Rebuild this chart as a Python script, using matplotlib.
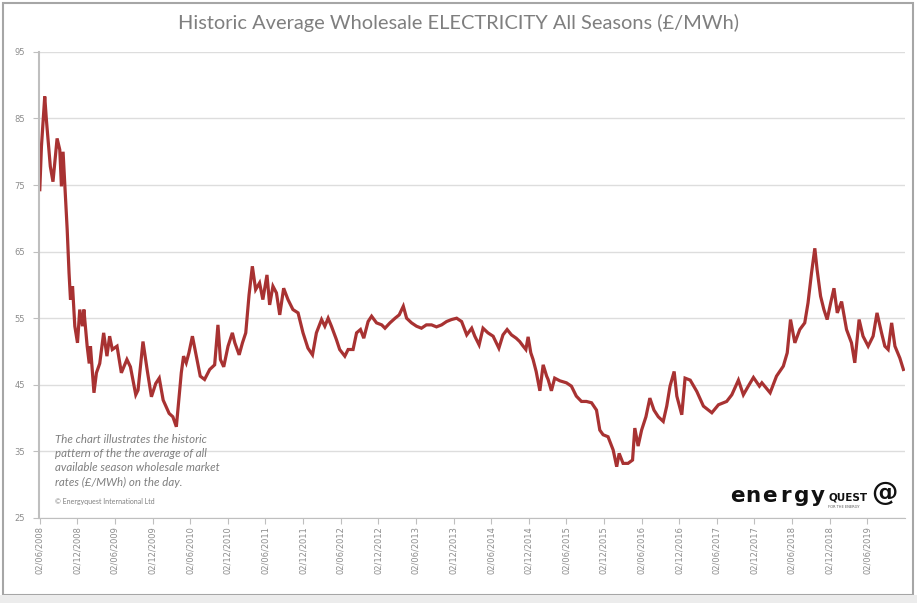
import matplotlib
matplotlib.use('Agg')
import matplotlib.pyplot as plt
import matplotlib.dates as mdates
import pandas as pd
from matplotlib.patches import Rectangle

# dates and average wholesale price (GBP/MWh)
dates = [
    '2008-06-02', '2008-06-10', '2008-06-26', '2008-07-04', '2008-07-23', '2008-08-05',
    '2008-08-25', '2008-09-07', '2008-09-15', '2008-09-23', '2008-10-13', '2008-10-22',
    '2008-10-29', '2008-11-08', '2008-11-19', '2008-12-02', '2008-12-13', '2008-12-26',
    '2009-01-02', '2009-01-18', '2009-01-28', '2009-02-03', '2009-02-20', '2009-03-04',
    '2009-03-20', '2009-04-08', '2009-04-24', '2009-05-07', '2009-05-20', '2009-06-12',
    '2009-07-03', '2009-07-30', '2009-08-16', '2009-09-11', '2009-09-22', '2009-10-16',
    '2009-11-05', '2009-11-26', '2009-12-17', '2010-01-03', '2010-01-22', '2010-02-20',
    '2010-03-10', '2010-03-27', '2010-04-20', '2010-05-01', '2010-05-14', '2010-05-27',
    '2010-06-13', '2010-07-02', '2010-07-21', '2010-08-11', '2010-09-05', '2010-09-29',
    '2010-10-15', '2010-10-27', '2010-11-12', '2010-12-03', '2010-12-24', '2011-01-05',
    '2011-01-26', '2011-02-11', '2011-02-27', '2011-03-15', '2011-03-31', '2011-04-16',
    '2011-05-05', '2011-05-21', '2011-06-10', '2011-06-23', '2011-07-09', '2011-07-26',
    '2011-08-11', '2011-08-30', '2011-09-20', '2011-10-14', '2011-11-08', '2011-12-02',
    '2011-12-26', '2012-01-17', '2012-02-05', '2012-03-01', '2012-03-17', '2012-04-02',
    '2012-04-18', '2012-05-12', '2012-05-28', '2012-06-22', '2012-07-08', '2012-08-01',
    '2012-08-18', '2012-09-06', '2012-09-22', '2012-10-13', '2012-10-30', '2012-11-23',
    '2012-12-18', '2013-01-03', '2013-01-27', '2013-02-21', '2013-03-13', '2013-04-02',
    '2013-04-18', '2013-05-12', '2013-06-05', '2013-06-29', '2013-07-23', '2013-08-17',
    '2013-09-10', '2013-10-05', '2013-10-29', '2013-11-22', '2013-12-17', '2014-01-10',
    '2014-02-04', '2014-02-28', '2014-03-15', '2014-04-05', '2014-04-24', '2014-05-18',
    '2014-06-12', '2014-07-10', '2014-07-30', '2014-08-19', '2014-09-09', '2014-10-02',
    '2014-10-19', '2014-11-05', '2014-11-18', '2014-11-29', '2014-12-12', '2014-12-23',
    '2015-01-07', '2015-01-25', '2015-02-10', '2015-02-27', '2015-03-06', '2015-03-22',
    '2015-04-07', '2015-05-02', '2015-06-03', '2015-06-27', '2015-07-21', '2015-08-15',
    '2015-09-08', '2015-10-03', '2015-10-27', '2015-11-12', '2015-11-28', '2015-12-22',
    '2016-01-16', '2016-02-02', '2016-02-14', '2016-03-04', '2016-03-28', '2016-04-19',
    '2016-04-30', '2016-05-16', '2016-06-02', '2016-06-23', '2016-07-12', '2016-08-01',
    '2016-08-22', '2016-09-15', '2016-10-02', '2016-10-18', '2016-11-07', '2016-11-20',
    '2016-12-14', '2016-12-30', '2017-01-24', '2017-02-25', '2017-03-29', '2017-05-09',
    '2017-06-10', '2017-07-20', '2017-08-14', '2017-09-15', '2017-10-09', '2017-11-02',
    '2017-11-27', '2017-12-26', '2018-01-07', '2018-02-16', '2018-03-19', '2018-04-21',
    '2018-05-10', '2018-05-26', '2018-06-16', '2018-07-10', '2018-08-03', '2018-08-19',
    '2018-09-05', '2018-09-21', '2018-10-02', '2018-10-19', '2018-11-04', '2018-11-20',
    '2018-12-07', '2018-12-23', '2019-01-08', '2019-01-29', '2019-02-22', '2019-03-18',
    '2019-04-03', '2019-04-24', '2019-05-13', '2019-06-07', '2019-07-01', '2019-07-20',
    '2019-08-11', '2019-08-27', '2019-09-12', '2019-09-29', '2019-10-15', '2019-11-08',
    '2019-11-25',
]
prices = [
    74.3, 80.8, 88.3, 84.8, 77.8, 75.5,
    82.0, 80.3, 74.8, 80.0, 68.3, 61.8,
    57.8, 59.8, 53.8, 51.3, 56.3, 53.8,
    56.3, 50.8, 48.2, 50.8, 43.8, 46.8,
    48.2, 52.8, 49.3, 52.3, 50.3, 50.8,
    46.8, 48.8, 47.7, 43.5, 44.2, 51.5,
    47.3, 43.2, 45.2, 46.0, 42.7, 40.7,
    40.2, 38.7, 46.8, 49.3, 48.3, 49.8,
    52.3, 49.3, 46.3, 45.8, 47.3, 48.0,
    54.0, 48.8, 47.7, 50.8, 52.8, 51.3,
    49.5, 51.3, 52.8, 58.5, 62.8, 59.3,
    60.3, 57.8, 61.5, 57.0, 59.8, 58.8,
    55.5, 59.5, 57.8, 56.3, 55.8, 52.8,
    50.5, 49.5, 52.8, 54.8, 53.8, 55.0,
    53.8, 51.8, 50.3, 49.3, 50.3, 50.3,
    52.8, 53.3, 52.0, 54.5, 55.3, 54.3,
    54.0, 53.5, 54.3, 55.0, 55.5, 56.8,
    55.0, 54.3, 53.8, 53.5, 54.0, 54.0,
    53.7, 54.0, 54.5, 54.8, 55.0, 54.5,
    52.5, 53.5, 52.3, 51.0, 53.5, 52.8,
    52.3, 50.5, 52.5, 53.3, 52.5, 52.0,
    51.5, 50.8, 50.3, 52.2, 49.8, 48.8,
    47.0, 44.1, 48.0, 46.3, 45.8, 44.1,
    46.0, 45.6, 45.3, 44.8, 43.3, 42.5,
    42.5, 42.3, 41.2, 38.2, 37.5, 37.2,
    35.2, 32.7, 34.7, 33.2, 33.2, 33.7,
    38.5, 35.8, 38.2, 40.2, 43.0, 41.2,
    40.2, 39.5, 41.8, 44.8, 47.0, 43.3,
    40.5, 46.0, 45.7, 44.0, 41.8, 40.8,
    42.0, 42.5, 43.5, 45.7, 43.5, 44.8,
    46.1, 44.8, 45.3, 43.8, 46.3, 47.8,
    49.8, 54.8, 51.3, 53.3, 54.3, 57.3,
    61.8, 65.5, 62.3, 58.3, 56.3, 54.8,
    57.3, 59.5, 55.8, 57.5, 53.3, 51.3,
    48.3, 54.8, 52.3, 50.8, 52.3, 55.8,
    52.8, 50.8, 50.3, 54.3, 50.8, 49.0,
    47.3,
]

title = 'Historic Average Wholesale ELECTRICITY All Seasons (£/MWh)'
note = ('The chart illustrates the historic\n'
        'pattern of the the average of all\n'
        'available season wholesale market\n'
        'rates (£/MWh) on the day.')
copyright_txt = '© Energyquest International Ltd'

x = pd.to_datetime(dates)

fig = plt.figure(figsize=(9.17, 6.03), dpi=100)
ax = fig.add_axes([0.0425, 0.141, 0.944, 0.773])

ax.plot(x, prices, color='#a83232', linewidth=2.3, solid_joinstyle='miter')

ax.set_ylim(25, 95)
ax.set_yticks(range(25, 96, 10))
ax.set_xlim(pd.Timestamp('2008-05-29'), pd.Timestamp('2019-12-01'))

# every six months from 02/06/2008
ticks = [pd.Timestamp('2008-06-02') + pd.DateOffset(months=6 * i) for i in range(23)]
ax.set_xticks(ticks)
ax.xaxis.set_major_formatter(mdates.DateFormatter('%d/%m/%Y'))
plt.setp(ax.get_xticklabels(), rotation=90, fontsize=6, color='#8c8c8c')
plt.setp(ax.get_yticklabels(), fontsize=6, color='#8c8c8c')

ax.grid(axis='y', color='#dddddd', linewidth=1.0)
ax.set_axisbelow(True)
for s in ['top', 'right']:
    ax.spines[s].set_visible(False)
ax.spines['left'].set_color('#bfbfbf')
ax.spines['left'].set_linewidth(1.5)
ax.spines['bottom'].set_color('#bfbfbf')
ax.tick_params(axis='x', length=4, color='#bfbfbf', pad=2)
ax.tick_params(axis='y', length=4, color='#bfbfbf', pad=6)

fig.text(0.5, 0.962, title, ha='center', va='center', fontsize=14.4,
         color='#7f7f7f', family='Lato')

ax.text(0.018, 0.181, note, transform=ax.transAxes, fontsize=8.3, style='italic',
        color='#7f7f7f', va='top', linespacing=1.38, family='Lato')
ax.text(0.018, 0.035, copyright_txt, transform=ax.transAxes, fontsize=5,
        color='#7f7f7f', va='center', family='Lato')

# logo: widely spaced "energy", small "QUEST", spiral mark
for i, ch in enumerate('energy'):
    fig.text((737 + i * 16.2) / 917, 0.1675, ch, fontsize=15.5, fontweight='bold',
             color='#111111', family='DejaVu Sans', va='baseline', ha='center')
fig.text(0.9035, 0.1705, 'QUEST', fontsize=7.5, fontweight='bold', color='#111111',
         family='DejaVu Sans Condensed', va='baseline')
fig.text(0.92, 0.163, 'FOR THE ENERGY', fontsize=2.6, color='#555555',
         family='DejaVu Sans', va='top', ha='center')
fig.text(0.9645, 0.182, '@', fontsize=19, fontweight='bold', color='#111111',
         family='DejaVu Sans', va='center', ha='center')

# outer frame
fig.patches.append(Rectangle((0.0035, 0.013), 0.9925, 0.982, transform=fig.transFigure,
                             fill=False, edgecolor='#a6a6a6', linewidth=1.5))
fig.patches.append(Rectangle((0, 0), 1, 0.013, transform=fig.transFigure,
                             facecolor='#ececec', edgecolor='none'))

fig.savefig('out.png', dpi=100)
